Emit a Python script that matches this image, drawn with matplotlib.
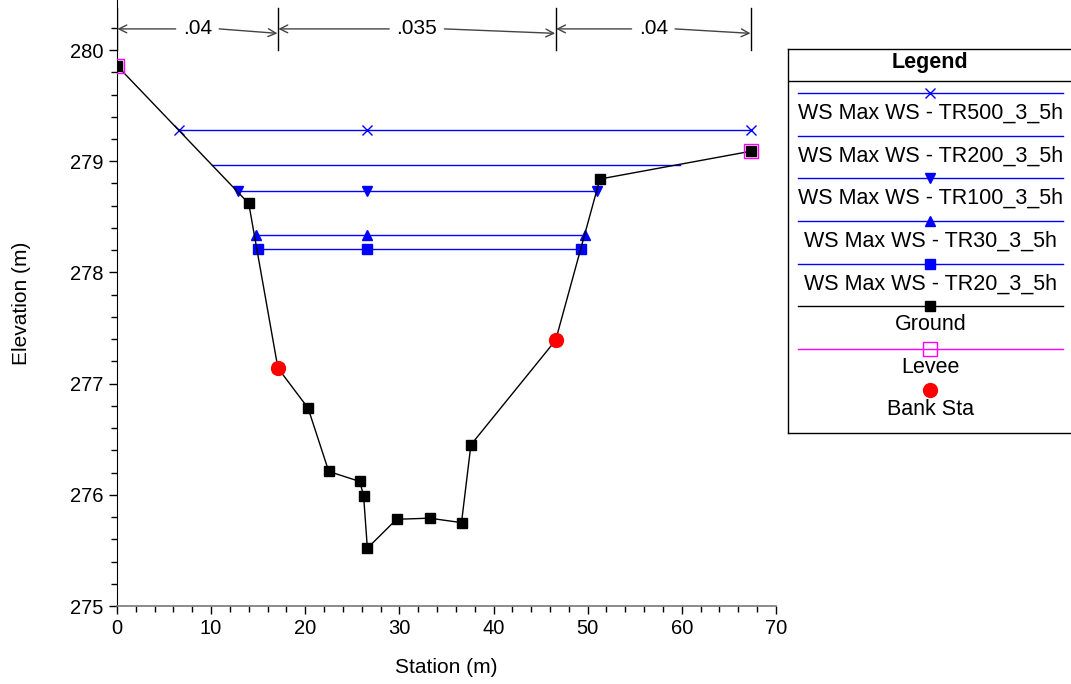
import matplotlib
matplotlib.use("Agg")
import matplotlib.pyplot as plt

plt.rcParams["font.family"] = ["Liberation Sans", "DejaVu Sans"]

# ground profile (station, elevation)
ground_sta = [0.0, 14.0, 17.1, 20.3, 22.5, 25.8, 26.2, 26.6, 29.7, 33.2, 36.6,
              37.6, 46.6, 51.3, 67.35]
ground_elev = [279.86, 278.62, 277.14, 276.78, 276.21, 276.12, 275.99, 275.52,
               275.78, 275.79, 275.75, 276.45, 277.39, 278.84, 279.09]

bank_sta = [17.1, 46.6]
bank_elev = [277.14, 277.39]

levee_sta = [0.0, 67.35]
levee_elev = [279.86, 279.09]

# water surfaces: label, left station, right station, elevation, marker
ws_labels = ["WS Max WS - TR500_3_5h", "WS Max WS - TR200_3_5h",
             "WS Max WS - TR100_3_5h", "WS Max WS - TR30_3_5h",
             "WS Max WS - TR20_3_5h"]
ws_left = [6.6, 10.1, 12.9, 14.8, 15.0]
ws_right = [67.35, 59.8, 51.0, 49.7, 49.3]
ws_mid = [26.6, None, 26.6, 26.6, 26.6]
ws_elev = [279.28, 278.97, 278.73, 278.34, 278.21]
ws_markers = ["x", None, "v", "^", "s"]

# Manning's n breaks
n_sta = [0.0, 17.1, 46.6, 67.35]
n_vals = [".04", ".035", ".04"]

BLUE = "#0000FF"
MAG = "#FF00FF"
FS = 14.5

fig = plt.figure(figsize=(10.71, 6.84), dpi=100)
ax = fig.add_axes([0.1092, 0.114, 0.6153, 0.886])

for lab, xl, xr, xm, z, mk in zip(ws_labels, ws_left, ws_right, ws_mid, ws_elev, ws_markers):
    ax.plot([xl, xr], [z, z], color=BLUE, lw=1.0, zorder=2)
    if mk is not None:
        xs = [xl, xm, xr]
        ax.plot(xs, [z] * 3, ls="none", marker=mk, color=BLUE,
                ms=7 if mk == "x" else 6.5, mew=1.0, zorder=3)

ax.plot(ground_sta, ground_elev, color="black", lw=1.0, marker="s", ms=6.5,
        mfc="black", mec="black", zorder=4)
ax.plot(levee_sta, levee_elev, ls="none", marker="s", ms=10, mfc="none",
        mec=MAG, mew=1.0, zorder=5)
ax.plot(bank_sta, bank_elev, ls="none", marker="o", ms=10, color="red", zorder=6)

# Manning's n annotation along top
y_top, y_bot, y_arr = 280.38, 280.0, 280.19
for i, lab in enumerate(n_vals):
    a, b = n_sta[i], n_sta[i + 1]
    c = (a + b) / 2
    half = 0.45 + len(lab) * 0.62
    ax.text(c, y_arr, lab, ha="center", va="center", fontsize=15)
    ax.annotate("", xy=(a + 0.05, y_arr), xytext=(c - half, y_arr),
                arrowprops=dict(arrowstyle="->", color="#444444", lw=1.0,
                                mutation_scale=14, shrinkA=0, shrinkB=0))
    ax.annotate("", xy=(b - 0.05, y_arr - 0.04), xytext=(c + half, y_arr),
                arrowprops=dict(arrowstyle="->", color="#444444", lw=1.0,
                                mutation_scale=14, shrinkA=0, shrinkB=0))
for s in n_sta:
    ax.plot([s, s], [y_bot, y_top], color="black", lw=1.0)

ax.set_xlim(0, 70)
ax.set_ylim(275, 280.45)
ax.set_xticks(range(0, 71, 10))
ax.set_xticks(range(0, 71, 2), minor=True)
ax.set_yticks([275, 276, 277, 278, 279, 280])
ax.set_yticks([275 + 0.2 * k for k in range(27)], minor=True)
ax.tick_params(labelsize=FS, length=6, width=1, direction="out")
ax.tick_params(which="minor", length=4, width=1)
for side in ("top", "right"):
    ax.spines[side].set_visible(False)
ax.spines["bottom"].set_color("#777777")
ax.spines["bottom"].set_linewidth(1.2)
ax.set_xlabel("Station (m)", fontsize=15)
ax.set_ylabel("Elevation (m)", fontsize=15)
ax.xaxis.set_label_coords(0.5, -0.086)
ax.yaxis.set_label_coords(-0.130, 0.5)

# hand-drawn legend box
lg = fig.add_axes([0.7358, 0.367, 0.27, 0.5616])
lg.set_xlim(788, 1071 + 283 * 0.02)
lg.set_ylim(433, 49)
lg.set_xticks([])
lg.set_yticks([])
for sp in lg.spines.values():
    sp.set_color("black")
    sp.set_linewidth(1.0)
lg.text(930, 63, "Legend", ha="center", va="center", fontsize=15.5, weight="bold")
lg.plot([788, 1080], [81, 81], color="black", lw=1.0)

entry_line_y = [93, 136, 178, 221, 264, 306, 349]
entry_text_y = [113, 156, 198, 241, 284, 325, 368]
entry_labels = ws_labels + ["Ground", "Levee"]
entry_colors = [BLUE] * 5 + ["black", MAG]
entry_markers = ws_markers + ["s", "s"]
for ly, ty, lab, col, mk in zip(entry_line_y, entry_text_y, entry_labels, entry_colors, entry_markers):
    lg.plot([798, 1062], [ly, ly], color=col, lw=1.0)
    if mk is not None:
        if lab == "Levee":
            lg.plot([930], [ly], marker="s", ms=10, mfc="none", mec=MAG, mew=1.0)
        else:
            lg.plot([930], [ly], marker=mk, ms=6.5, color=col, mew=1.0)
    lg.text(930, ty, lab, ha="center", va="center", fontsize=15.5)
lg.plot([930], [390], marker="o", ms=10, color="red")
lg.text(930, 410, "Bank Sta", ha="center", va="center", fontsize=15.5)

fig.savefig("out.png", dpi=100)
